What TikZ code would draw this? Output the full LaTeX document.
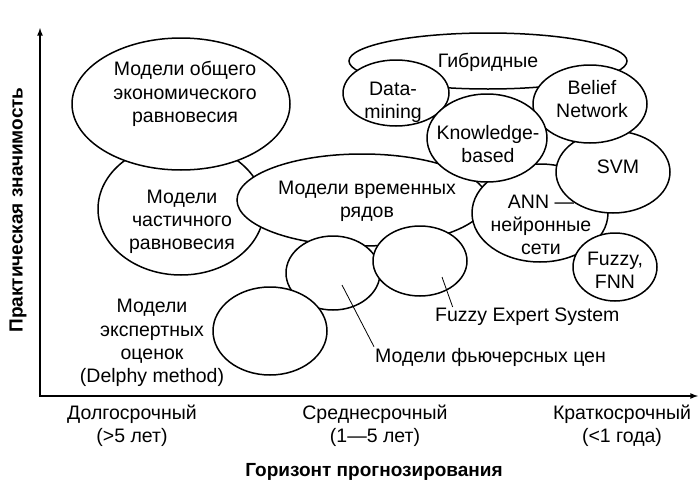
\documentclass[tikz,border=0pt]{standalone}
\usepackage{fontspec}
\setmainfont{Liberation Sans}
\usetikzlibrary{shapes.geometric,calc}
\newcommand{\txtsize}{\fontsize{19.5}{23.3}\selectfont}

\begin{document}
\begin{tikzpicture}[x=1pt, y=-1pt,
        oval/.style={draw, ellipse, fill=white, line width=1.5pt, inner sep=0pt},
        txt/.style={align=center, font=\txtsize, inner sep=0pt},
        pinlbl/.style={font=\txtsize, inner sep=1pt, anchor=west},
        axlbl/.style={font=\fontsize{19}{22}\selectfont\bfseries, inner sep=0pt},
        leader/.style={line width=0.8pt},
      ]
      \useasboundingbox (0,0) rectangle (699,482);

      % Axes
      \coordinate (origin) at (40,396);
      \coordinate (ytip) at (40,28);
      \coordinate (xtip) at (698,396);
      \draw[line width=1.6pt, latex-latex] (ytip) -- (origin) -- (xtip);

      % Ellipses, back to front
      \node[oval, minimum width=166pt, minimum height=132pt] (peq) at (181,209) {};
      \node[oval, minimum width=218pt, minimum height=132pt] (geq) at (181,104) {};
      \node[oval, minimum width=250pt, minimum height=92pt] (tser) at (362,200) {};
      \node[oval, minimum width=278pt, minimum height=56pt] (hyb) at (488,61) {};
      \node[oval, minimum width=136pt, minimum height=98pt] (ann) at (540,213) {};
      \node[oval, minimum width=114pt, minimum height=82pt] (svm) at (613,172) {};
      \node[oval, minimum width=114pt, minimum height=78pt] (belief) at (590,104) {};
      \node[oval, minimum width=106pt, minimum height=66pt] (dmin) at (396,93) {};
      \node[oval, minimum width=120pt, minimum height=88pt] (kbase) at (487,138) {};
      \node[oval, minimum width=84pt, minimum height=68pt] (fnn) at (615,267) {};
      \node[oval, minimum width=94pt, minimum height=74pt] (fut) at (333,273) {};
      \node[oval, minimum width=94pt, minimum height=70pt] (fes) at (420,261) {};
      \node[oval, minimum width=114pt, minimum height=88pt] (delphy) at (270,331) {};

      % Texts in the ellipses
      \node[txt] (geqtxt) at (185,94) {Модели общего\\экономического\\равновесия};
      \node[txt] (peqtxt) at (182,222) {Модели\\частичного\\равновесия};
      \node[txt] (tsertxt) at (367,201) {Модели временных\\рядов};
      \node[txt] (hybtxt) at (488,62) {Гибридные};
      \node[txt] (dmintxt) at (393,102) {Data-\\mining};
      \node[txt] (kbasetxt) at (488,144) {Knowledge-\\based};
      \node[txt] (belieftxt) at (592,99) {Belief\\Network};
      \node[txt] (svmtxt) at (618,167) {SVM};
      \node[txt] (anntxt) at (541,225) {ANN —\\нейронные\\сети};
      \node[txt] (fnntxt) at (615,270) {Fuzzy,\\FNN};

      % Texts outside
      \node[txt] (delphytxt) at (152,343) {Модели\\экспертных\\оценок\\(Delphy method)};
      \node[pinlbl] (futlbl) at (374,357) {Модели фьючерсных цен};
      \node[pinlbl] (feslbl) at (434,317) {Fuzzy Expert System};

      % Leader lines
      \coordinate (futpin) at (342,285);
      \coordinate (fespin) at (442,277);
      \draw[leader] (futpin) -- (futlbl.north west);
      \draw[leader] (fespin) -- ($(feslbl.north west)!0.1!(feslbl.north east)$);

      % Axis labels
      \node[txt] (longterm) at (132,426) {Долгосрочный\\(>5 лет)};
      \node[txt] (midterm) at (375,426) {Среднесрочный\\(1—5 лет)};
      \node[txt] (shortterm) at (622,426) {Краткосрочный\\(<1 года)};
      \node[axlbl] (xlbl) at (374,472) {Горизонт прогнозирования};
      \node[axlbl, rotate=90] (ylbl) at (18,210) {Практическая значимость};
    \end{tikzpicture}
\end{document}
